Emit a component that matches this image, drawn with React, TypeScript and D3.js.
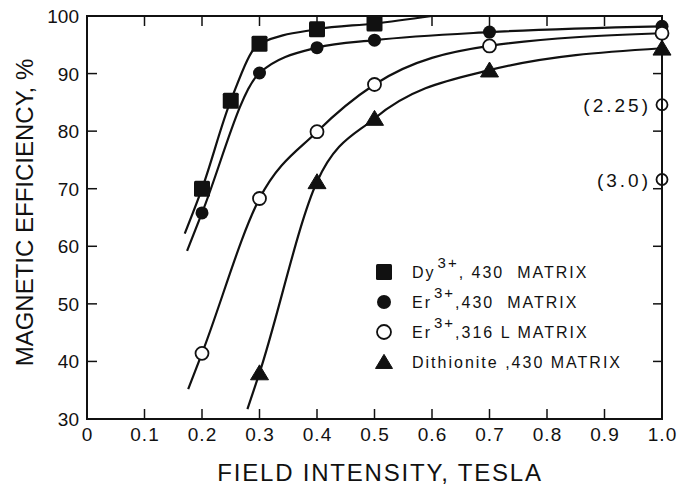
import * as d3 from "d3";

// field intensity (tesla) / magnetic efficiency (%)
const dyX = [0.2, 0.25, 0.3, 0.4, 0.5];
const dyY = [70, 85.3, 95.2, 97.7, 98.7];
const dyStart = [0.17, 62.2];
const dyEnd = [0.6, 100];

const erX = [0.2, 0.3, 0.4, 0.5, 0.7, 1.0];
const erY = [65.8, 90.1, 94.5, 95.8, 97.2, 98.2];
const erStart = [0.174, 59.2];

const er316X = [0.2, 0.3, 0.4, 0.5, 0.7, 1.0];
const er316Y = [41.4, 68.3, 79.9, 88.1, 94.8, 97];
const er316Start = [0.176, 35.2];

const dithX = [0.3, 0.4, 0.5, 0.7, 1.0];
const dithY = [38.0, 71.2, 82.2, 90.6, 94.4];
const dithStart = [0.279, 31.7];

// lone open points at 1.0 tesla, labelled with their own field value
const extraX = [1.0, 1.0];
const extraY = [84.6, 71.6];
const extraLabels = ["(2.25)", "(3.0)"];

const legendNames = ["Dy", "Er", "Er", "Dithionite"];
const legendSup = ["3+", "3+", "3+", ""];
const legendRest = [", 430  MATRIX", ",430  MATRIX", ",316 L MATRIX", " ,430 MATRIX"];

const W = 691;
const H = 488;
const margin = { top: 16, right: 29, bottom: 69, left: 87 };
const FONT = "'Liberation Sans', Arial, Helvetica, sans-serif";

const x = d3.scaleLinear().domain([0, 1]).range([margin.left, W - margin.right]);
const y = d3.scaleLinear().domain([30, 100]).range([H - margin.bottom, margin.top]);

const line = d3
  .line<number[]>()
  .x((d) => x(d[0]))
  .y((d) => y(d[1]))
  .curve(d3.curveMonotoneX);

const pts = (xs: number[], ys: number[]) => xs.map((v, i) => [v, ys[i]]);

const Square = ({ cx, cy, s = 16 }: { cx: number; cy: number; s?: number }) => (
  <rect x={cx - s / 2} y={cy - s / 2} width={s} height={s} fill="#111" rx={1.5} />
);
const Dot = ({ cx, cy, r = 6.5 }: { cx: number; cy: number; r?: number }) => (
  <circle cx={cx} cy={cy} r={r} fill="#111" />
);
const Ring = ({ cx, cy, r = 6.5 }: { cx: number; cy: number; r?: number }) => (
  <circle cx={cx} cy={cy} r={r} fill="#fff" stroke="#111" strokeWidth={1.8} />
);
const Tri = ({ cx, cy, s = 18 }: { cx: number; cy: number; s?: number }) => (
  <path
    d={`M${cx},${cy - s * 0.45}L${cx + s / 2},${cy + s * 0.38}L${cx - s / 2},${cy + s * 0.38}Z`}
    fill="#111"
    stroke="#111"
    strokeLinejoin="round"
    strokeWidth={1}
  />
);

export default function App() {
  const x0 = margin.left;
  const x1 = W - margin.right;
  const y0 = H - margin.bottom;
  const y1 = margin.top;
  const xTicks = x.ticks(10);
  const yTicks = y.ticks(7);
  const fmtX = (d: number) => (d === 0 ? "0" : d3.format(".1f")(d));

  const curves = [
    [dyStart, ...pts(dyX, dyY), dyEnd],
    [erStart, ...pts(erX, erY)],
    [er316Start, ...pts(er316X, er316Y)],
    [dithStart, ...pts(dithX, dithY)],
  ];

  const legendMarks = [Square, Dot, Ring, Tri];

  return (
    <svg
      width={W}
      height={H}
      style={{ position: "absolute", left: 0, top: 0, background: "#fff", fontFamily: FONT }}
    >
      {/* curves */}
      {curves.map((c, i) => (
        <path key={i} d={line(c) ?? ""} fill="none" stroke="#111" strokeWidth={2.2} />
      ))}

      {/* frame */}
      <rect x={x0} y={y1} width={x1 - x0} height={y0 - y1} fill="none" stroke="#111" strokeWidth={2} />

      {/* ticks, all pointing inward */}
      {xTicks.map((t) => (
        <g key={"xt" + t}>
          <line x1={x(t)} x2={x(t)} y1={y0} y2={y0 - 10} stroke="#111" strokeWidth={1.5} />
          <line x1={x(t)} x2={x(t)} y1={y1} y2={y1 + 10} stroke="#111" strokeWidth={1.5} />
          <text
            x={x(t) + 0.5}
            y={y0 + 22}
            textAnchor="middle"
            fontSize={19}
            letterSpacing={1}
            fill="#111"
          >
            {fmtX(t)}
          </text>
        </g>
      ))}
      {yTicks.map((t) => (
        <g key={"yt" + t}>
          <line x1={x0} x2={x0 + 10} y1={y(t)} y2={y(t)} stroke="#111" strokeWidth={1.5} />
          <line x1={x1} x2={x1 - 9} y1={y(t)} y2={y(t)} stroke="#111" strokeWidth={1.5} />
          <text x={x0 - 8} y={y(t) + 7} textAnchor="end" fontSize={19} fill="#111">
            {t}
          </text>
        </g>
      ))}

      {/* markers */}
      {dyX.map((v, i) => (
        <Square key={"dy" + i} cx={x(v)} cy={y(dyY[i])} />
      ))}
      {erX.map((v, i) => (
        <Dot key={"er" + i} cx={x(v)} cy={y(erY[i])} />
      ))}
      {er316X.map((v, i) => (
        <Ring key={"eo" + i} cx={x(v)} cy={y(er316Y[i])} />
      ))}
      {dithX.map((v, i) => (
        <Tri key={"di" + i} cx={x(v)} cy={y(dithY[i])} />
      ))}
      {extraX.map((v, i) => (
        <g key={"ex" + i}>
          <circle cx={x(v)} cy={y(extraY[i])} r={5.5} fill="none" stroke="#111" strokeWidth={1.8} />
          <text
            x={x(v) - 11}
            y={y(extraY[i]) + 7}
            textAnchor="end"
            fontSize={19}
            letterSpacing={3}
            fill="#111"
          >
            {extraLabels[i]}
          </text>
        </g>
      ))}

      {/* legend */}
      {legendNames.map((n, i) => {
        const ly = 272 + i * 30;
        const M = legendMarks[i];
        return (
          <g key={"lg" + i}>
            <M cx={384} cy={ly} {...(i === 0 ? { s: 16 } : i === 3 ? { s: 17 } : { r: 7 })} />
            <text
              x={412}
              y={ly + 6}
              fontSize={16}
              letterSpacing={2}
              fill="#111"
              style={{ whiteSpace: "pre" }}
            >
              <tspan>{n}</tspan>
              {legendSup[i] && (
                <tspan dx={2} dy={-10} fontSize={15}>
                  {legendSup[i]}
                </tspan>
              )}
              <tspan dy={legendSup[i] ? 10 : 0}>{legendRest[i]}</tspan>
            </text>
          </g>
        );
      })}

      {/* axis titles */}
      <text x={380} y={481} textAnchor="middle" fontSize={24} letterSpacing={1.8} fill="#111">
        FIELD INTENSITY, TESLA
      </text>
      <text
        transform={`translate(33, ${(y0 + y1) / 2 - 5}) rotate(-90)`}
        textAnchor="middle"
        fontSize={24}
        fill="#111"
      >
        MAGNETIC EFFICIENCY, %
      </text>
    </svg>
  );
}
